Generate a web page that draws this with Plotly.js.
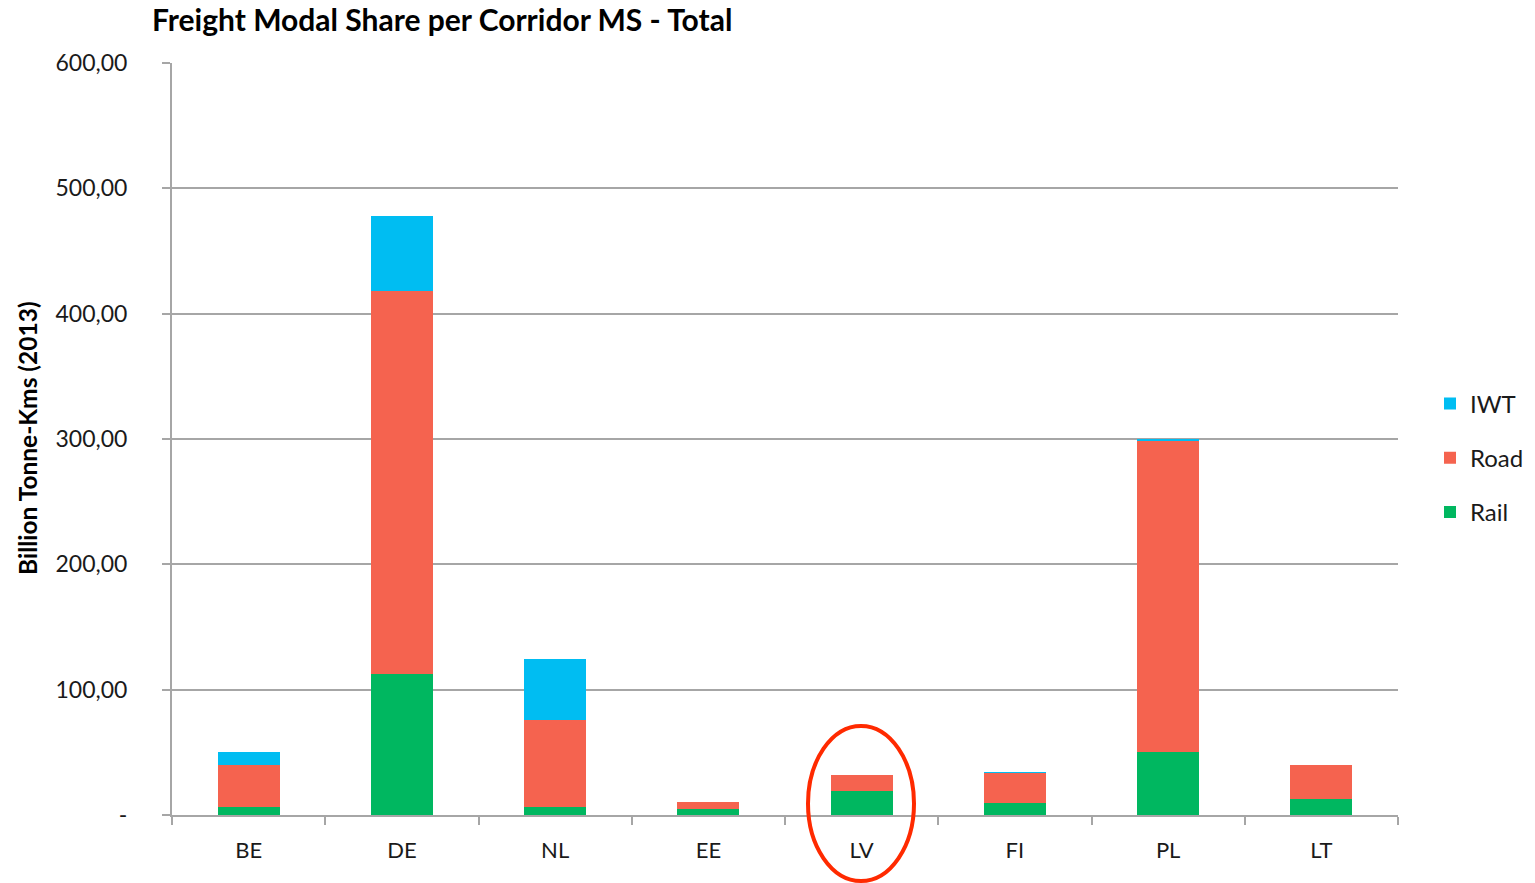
<!DOCTYPE html>
<html>
<head>
<meta charset="utf-8">
<script src="https://cdn.plot.ly/plotly-3.0.1.min.js"></script>
<style>html,body{margin:0;padding:0;background:#fff;}#chart{width:1535px;height:883px;}</style>
</head>
<body>
<div id="chart"></div>
<script>
const categories = ["BE", "DE", "NL", "EE", "LV", "FI", "PL", "LT"];
const rail = [6.6, 112.5, 6.1, 4.8, 19.1, 9.6, 50.5, 13.0];
const road = [33.5, 305.8, 70.1, 5.6, 12.8, 23.9, 247.9, 26.7];
const iwt  = [9.9, 59.9, 48.3, 0, 0, 1.1, 2.0, 0];
const yTickVals = [0, 100, 200, 300, 400, 500, 600];
const yTickText = ["-", "100,00", "200,00", "300,00", "400,00", "500,00", "600,00"];

const FONT = "Lato, 'Open Sans', sans-serif";
const mk = (name, y, color, rank) => ({
  type: "bar", name: name, x: categories, y: y,
  marker: {color: color, line: {width: 0}},
  legendgroup: name, legendrank: rank, hoverinfo: "x+y+name"
});
const data = [
  mk("Rail", rail, "#00B760", 3),
  mk("Road", road, "#F5634F", 2),
  mk("IWT", iwt, "#00BDF2", 1)
];

const layout = {
  width: 1535, height: 883,
  margin: {l: 172, r: 137, t: 63, b: 68, autoexpand: false},
  paper_bgcolor: "#fff", plot_bgcolor: "#fff",
  barmode: "stack", bargap: 0.595,
  font: {family: FONT, size: 20, color: "#1a1a1a"},
  title: {text: "<b>Freight Modal Share per Corridor MS - Total</b>", xref: "container", yref: "container",
          x: 152/1535, xanchor: "left", y: 1 - 20/883, yanchor: "middle",
          font: {family: FONT, size: 30, color: "#000"}},
  xaxis: {type: "category", showgrid: false, showline: true, linecolor: "#A6A6A6", linewidth: 2,
          ticks: "outside", tickson: "boundaries", ticklen: 8, tickcolor: "#A6A6A6", tickwidth: 2,
          ticklabelstandoff: 15, tickfont: {family: FONT, size: 22, color: "#1a1a1a"}, fixedrange: true,
          automargin: false},
  yaxis: {range: [0, 600], tickmode: "array", tickvals: yTickVals, ticktext: yTickText,
          showgrid: true, gridcolor: "#A6A6A6", gridwidth: 2, zeroline: false,
          showline: true, linecolor: "#A6A6A6", linewidth: 2,
          ticks: "outside", ticklen: 8, tickcolor: "#A6A6A6", tickwidth: 2,
          ticklabelstandoff: 30, tickfont: {family: FONT, size: 23, color: "#1a1a1a"}, fixedrange: true,
          automargin: false},
  legend: {x: (1430 - 172) / 1226, xanchor: "left", y: (815 - 458) / 752, yanchor: "middle", traceorder: "grouped",
           tracegroupgap: 20, font: {family: FONT, size: 24, color: "#1a1a1a"}, bgcolor: "rgba(0,0,0,0)"},
  annotations: [{
    text: "<b>Billion Tonne-Kms (2013)</b>", textangle: -90, xref: "paper", yref: "paper",
    x: (27 - 172) / 1226, y: (815 - 438) / 752, xanchor: "center", yanchor: "middle",
    showarrow: false, font: {family: FONT, size: 24.5, color: "#000"}
  }],
  shapes: [{
    type: "circle", xref: "paper", yref: "paper",
    x0: (808 - 172) / 1226, x1: (914 - 172) / 1226,
    y0: (815 - 881) / 752, y1: (815 - 726) / 752,
    line: {color: "#FF2A00", width: 4}, fillcolor: "rgba(0,0,0,0)", layer: "above"
  }]
};
Plotly.newPlot("chart", data, layout, {displayModeBar: false, staticPlot: true});
</script>
</body>
</html>
